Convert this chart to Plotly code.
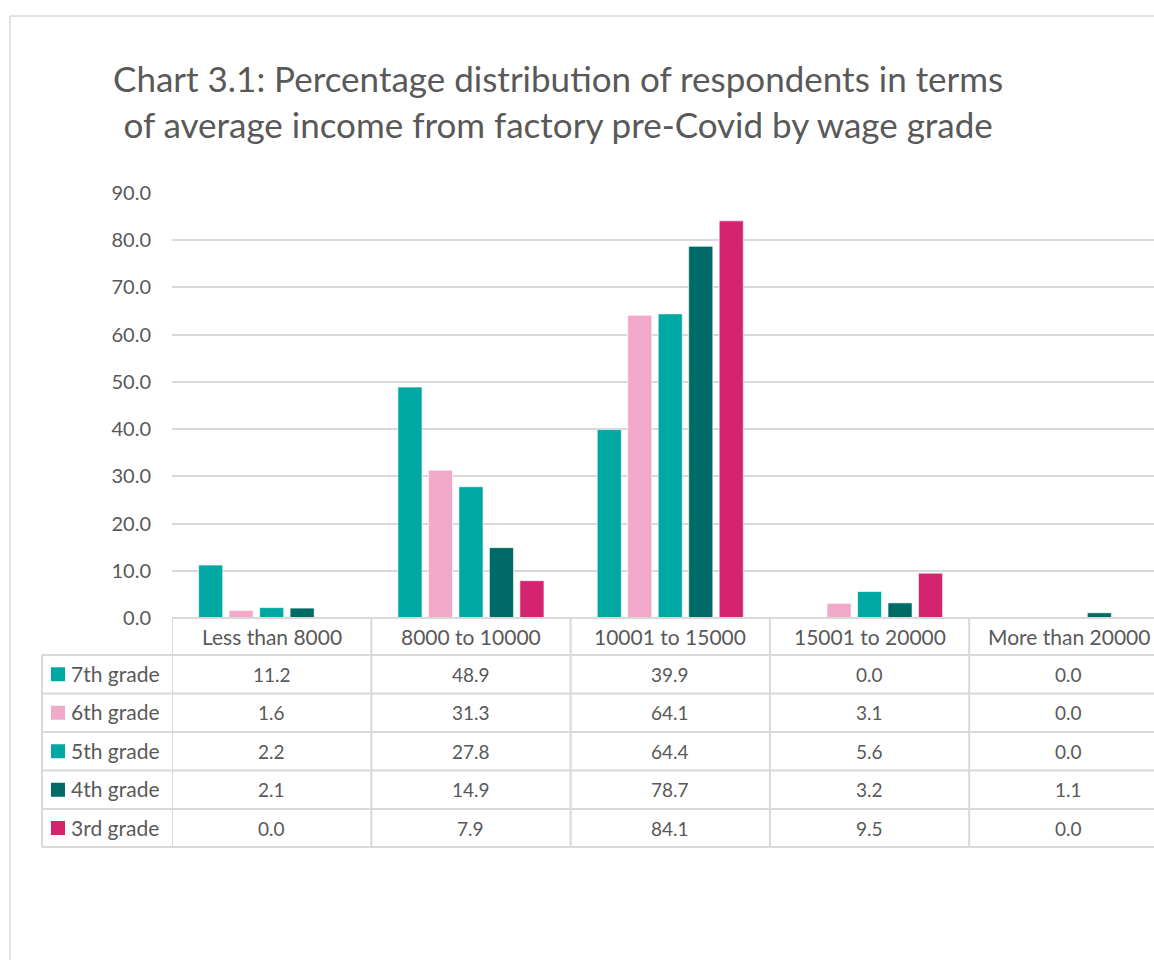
import plotly.graph_objects as go

categories = ["Less than 8000", "8000 to 10000", "10001 to 15000", "15001 to 20000", "More than 20000"]
series_names = ["7th grade", "6th grade", "5th grade", "4th grade", "3rd grade"]
grade7 = [11.2, 48.9, 39.9, 0.0, 0.0]
grade6 = [1.6, 31.3, 64.1, 3.1, 0.0]
grade5 = [2.2, 27.8, 64.4, 5.6, 0.0]
grade4 = [2.1, 14.9, 78.7, 3.2, 1.1]
grade3 = [0.0, 7.9, 84.1, 9.5, 0.0]
series_values = [grade7, grade6, grade5, grade4, grade3]
colors = ["#00A8A4", "#F2A9C9", "#00A8A4", "#006B66", "#D4236F"]
y_ticks = [0, 10, 20, 30, 40, 50, 60, 70, 80, 90]

W, H = 1154, 960
L, R, T, B = 172, 0, 193, 342
PW, PH = W - L - R, H - T - B
TXT = "#595959"
GRID = "#D9D9D9"
FONT = "Lato"


def px(x):
    return (x - L) / PW


def py(y):
    return (H - B - y) / PH


fig = go.Figure()
for name, vals, col in zip(series_names, series_values, colors):
    fig.add_trace(go.Bar(
        x=categories, y=vals, name=name,
        marker=dict(color=col, line=dict(color="rgba(255,255,255,0.6)", width=1)),
        showlegend=False,
    ))

cat_w = 199.3
x_end = -0.5 + PW / cat_w

shapes = []
# outer chart frame
shapes.append(dict(type="line", xref="paper", yref="paper", x0=px(10), x1=px(W + 5), y0=py(16), y1=py(16),
                   line=dict(color=GRID, width=1.5)))
shapes.append(dict(type="line", xref="paper", yref="paper", x0=px(10), x1=px(10), y0=py(16), y1=py(H + 5),
                   line=dict(color=GRID, width=1.5)))

# table rows
row_edges = [618, 655, 693.5, 732, 770.5, 809, 847]
for i, yy in enumerate(row_edges):
    x0 = px(172) if i == 0 else px(42)
    shapes.append(dict(type="line", xref="paper", yref="paper", x0=x0, x1=px(W + 5), y0=py(yy), y1=py(yy),
                       line=dict(color=GRID, width=2)))
# left vertical border
shapes.append(dict(type="line", xref="paper", yref="paper", x0=px(42), x1=px(42), y0=py(655), y1=py(847),
                   line=dict(color=GRID, width=2)))
# category column borders (through the x axis scale)
for k in range(len(categories) + 1):
    shapes.append(dict(type="line", xref="x", yref="paper", x0=k - 0.5, x1=k - 0.5, y0=py(618), y1=py(847),
                       line=dict(color=GRID, width=2)))

annotations = []
annotations.append(dict(
    text="Chart 3.1: Percentage distribution of respondents in terms<br>of average income from factory pre-Covid by wage grade",
    xref="paper", yref="paper", x=px(558), y=py(101), xanchor="center", yanchor="middle",
    showarrow=False, font=dict(family=FONT, size=35, color=TXT), align="center"))

# header cells
for k, c in enumerate(categories):
    annotations.append(dict(text=c, xref="x", yref="paper", x=k, y=py(636.5), xanchor="center", yanchor="middle",
                            showarrow=False, font=dict(family=FONT, size=21, color=TXT)))

# body cells
for r, (name, vals, col) in enumerate(zip(series_names, series_values, colors)):
    yc = (row_edges[r + 1] + row_edges[r + 2]) / 2
    shapes.append(dict(type="rect", xref="paper", yref="paper", x0=px(51), x1=px(65), y0=py(yc - 7), y1=py(yc + 7),
                       fillcolor=col, line=dict(width=0)))
    annotations.append(dict(text=name, xref="paper", yref="paper", x=px(69), y=py(yc - 1), xanchor="left",
                            yanchor="middle", showarrow=False, font=dict(family=FONT, size=21, color=TXT)))
    for k, v in enumerate(vals):
        annotations.append(dict(text=f"{v:.1f}", xref="x", yref="paper", x=k, y=py(yc), xanchor="center",
                                yanchor="middle", showarrow=False, font=dict(family=FONT, size=19, color=TXT)))

fig.update_layout(
    width=W, height=H,
    margin=dict(l=L, r=R, t=T, b=B, pad=0),
    paper_bgcolor="white", plot_bgcolor="white",
    barmode="group", bargap=0.235, bargroupgap=0.21,
    shapes=shapes, annotations=annotations,
    font=dict(family=FONT, color=TXT),
)
fig.update_xaxes(range=[-0.5, x_end], showticklabels=False, showgrid=False, zeroline=False, showline=False,
                 ticks="", fixedrange=True)
fig.update_yaxes(range=[0, 90], tickvals=y_ticks, tickformat=".1f", showgrid=True, gridcolor=GRID, gridwidth=1.5,
                 zeroline=False, showline=False, ticks="", ticklabelstandoff=20,
                 tickfont=dict(family=FONT, size=20, color=TXT))

fig.write_html("out.html", config={"displayModeBar": False},
               post_script="document.body.style.margin='0';document.body.style.overflow='hidden';")
